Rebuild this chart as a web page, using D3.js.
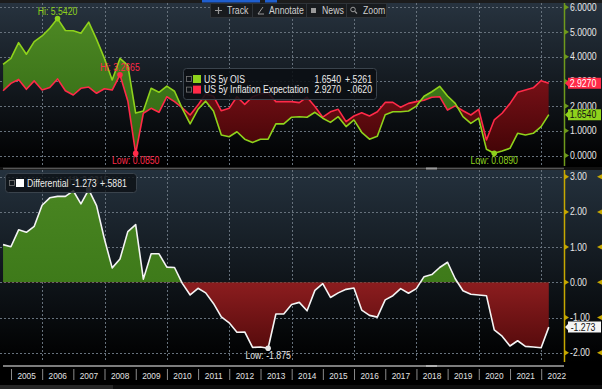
<!DOCTYPE html>
<html>
<head>
<meta charset="utf-8">
<script src="https://cdn.jsdelivr.net/npm/d3@7"></script>
<style>
html, body { margin: 0; padding: 0; background: #000; }
svg { display: block; font-family: "Liberation Sans", Arial, sans-serif; }
</style>
</head>
<body>
<script>
////////// datos trimestrales //////////
var fechas = [
  "2004-09-30", "2004-12-31",
  "2005-03-31", "2005-06-30", "2005-09-30", "2005-12-31",
  "2006-03-31", "2006-06-30", "2006-09-30", "2006-12-31",
  "2007-03-31", "2007-06-30", "2007-09-30", "2007-12-31",
  "2008-03-31", "2008-06-30", "2008-09-30", "2008-12-31",
  "2009-03-31", "2009-06-30", "2009-09-30", "2009-12-31",
  "2010-03-31", "2010-06-30", "2010-09-30", "2010-12-31",
  "2011-03-31", "2011-06-30", "2011-09-30", "2011-12-31",
  "2012-03-31", "2012-06-30", "2012-09-30", "2012-12-31",
  "2013-03-31", "2013-06-30", "2013-09-30", "2013-12-31",
  "2014-03-31", "2014-06-30", "2014-09-30", "2014-12-31",
  "2015-03-31", "2015-06-30", "2015-09-30", "2015-12-31",
  "2016-03-31", "2016-06-30", "2016-09-30", "2016-12-31",
  "2017-03-31", "2017-06-30", "2017-09-30", "2017-12-31",
  "2018-03-31", "2018-06-30", "2018-09-30", "2018-12-31",
  "2019-03-31", "2019-06-30", "2019-09-30", "2019-12-31",
  "2020-03-31", "2020-06-30", "2020-09-30", "2020-12-31",
  "2021-03-31", "2021-06-30", "2021-09-30", "2021-12-31",
  "2022-03-31"
];

// US 5y OIS
var ois = [
  3.69, 3.93,
  4.57, 4.10, 4.61, 4.84,
  5.15, 5.542, 5.06, 5.05,
  4.95, 5.40, 4.70, 3.93,
  3.06, 3.93, 3.65, 1.72,
  1.80, 2.72, 2.56, 2.81,
  2.60, 1.90, 1.28, 1.87,
  2.20, 1.80, 0.83, 0.76,
  0.96, 0.66, 0.53, 0.66,
  0.66, 1.28, 1.28, 1.55,
  1.57, 1.55, 1.75, 1.51,
  1.34, 1.57, 1.17, 1.44,
  0.94, 0.66, 0.78, 1.65,
  1.77, 1.77, 1.80, 2.00,
  2.40, 2.58, 2.80, 2.41,
  2.11, 1.57, 1.30, 1.51,
  0.25, 0.089, 0.18, 0.29,
  0.90, 0.83, 0.90, 1.17,
  1.654
];

// US 5y Inflation Expectation
var inflacion = [
  2.62, 2.92,
  3.08, 2.68, 3.02, 2.65,
  2.75, 3.10, 2.62, 2.45,
  2.72, 2.77, 2.52, 2.70,
  2.65, 3.2665, 2.21, 0.085,
  1.71, 1.91, 1.75, 2.38,
  2.18, 1.93, 1.64, 2.04,
  2.50, 2.40, 1.81, 1.91,
  2.38, 2.07, 2.38, 2.50,
  2.535, 2.18, 2.18, 2.18,
  2.14, 2.36, 1.98, 1.55,
  1.77, 1.87, 1.37, 1.60,
  1.73, 1.60, 1.77, 2.15,
  2.15, 1.95, 2.11, 2.18,
  2.24, 2.36, 2.38, 1.84,
  2.01, 1.81, 1.64, 1.87,
  0.63, 1.44, 1.71, 2.10,
  2.56, 2.65, 2.74, 3.03,
  2.927
];

// Differential (panel de abajo)
var diferencial = [
  1.07, 1.01,
  1.49, 1.42, 1.59, 2.19,
  2.40, 2.44, 2.44, 2.60,
  2.23, 2.6315, 2.18, 1.23,
  0.41, 0.66, 1.44, 1.64,
  0.09, 0.81, 0.81, 0.43,
  0.42, -0.03, -0.36, -0.17,
  -0.30, -0.60, -0.98, -1.15,
  -1.42, -1.41, -1.85, -1.84,
  -1.875, -0.90, -0.90, -0.63,
  -0.57, -0.81, -0.23, -0.04,
  -0.43, -0.30, -0.20, -0.16,
  -0.79, -0.94, -0.99, -0.50,
  -0.38, -0.18, -0.31, -0.18,
  0.16, 0.22, 0.42, 0.57,
  0.10, -0.24, -0.34, -0.36,
  -0.38, -1.351, -1.53, -1.81,
  -1.66, -1.82, -1.84, -1.86,
  -1.273
];

var aniosEtiquetas = ["2005","2006","2007","2008","2009","2010","2011","2012","2013",
  "2014","2015","2016","2017","2018","2019","2020","2021","2022"];
var ticksArriba = [0, 1, 2, 3, 4, 5, 6];
var ticksAbajo = [-2, -1, 0, 1, 2, 3];
var aniosGrilla = [2006, 2008, 2010, 2012, 2014, 2016, 2018, 2020, 2022];

var leyendaArriba = [
  {nombre: "US 5y OIS", valor: "1.6540", cambio: "+.5261", color: "#8fd21c"},
  {nombre: "US 5y Inflation Expectation", valor: "2.9270", cambio: "-.0620", color: "#ff2a48"}
];
var leyendaAbajo = {nombre: "Differential", valor: "-1.273", cambio: "+.5881"};
var herramientas = ["Track", "Annotate", "News", "Zoom"];

////////// escalas //////////
var parseFecha = d3.utcParse("%Y-%m-%d");
var datos = fechas.map(function(f, i) {
  return {fecha: parseFecha(f), ois: ois[i], inf: inflacion[i], dif: diferencial[i]};
});

var ejeX = 564;
var x = d3.scaleUtc()
  .domain([new Date(Date.UTC(2005, 0, 1)), new Date(Date.UTC(2022, 0, 1))])
  .range([11, 541.2]);
var yArr = d3.scaleLinear().domain([0, 6]).range([155.5, 7.3]);
var yAba = d3.scaleLinear().domain([-2, 3]).range([352.7, 176.7]);

var verde = "#8fd21c", rojo = "#ff2a48";
var menos = function(s) { return s.replace("\u2212", "-"); };
var fmt4 = function(v) { return menos(d3.format(".4f")(v)); };
var fmt3 = function(v) { return menos(d3.format(".3f")(v)); };
var fmt2 = function(v) { return menos(d3.format(".2f")(v)); };

var svg = d3.select("body").append("svg")
  .attr("width", 602)
  .attr("height", 389)
  .attr("font-size", 10);
var defs = svg.append("defs");

function degradado(id, y1, y2, c1, c2) {
  var g = defs.append("linearGradient").attr("id", id)
    .attr("gradientUnits", "userSpaceOnUse")
    .attr("x1", 0).attr("x2", 0).attr("y1", y1).attr("y2", y2);
  g.append("stop").attr("offset", 0).attr("stop-color", c1);
  g.append("stop").attr("offset", 1).attr("stop-color", c2);
}
degradado("fondoArr", 3, 166, "#27333f", "#000000");
degradado("fondoAba", 170, 362, "#24313d", "#000000");
degradado("rellVerde", 10, 155, "#4f8a25", "#2e6410");
degradado("rellRojo", 60, 155, "#86141c", "#420406");
degradado("rellVerdeAba", 180, 282, "#4a8622", "#3e7a1a");
degradado("rellRojoAba", 282, 352, "#8c1d1f", "#540a0b");

defs.append("clipPath").attr("id", "clipArr")
  .append("rect").attr("x", 0).attr("y", 3).attr("width", ejeX).attr("height", 163);
defs.append("clipPath").attr("id", "clipAba")
  .append("rect").attr("x", 0).attr("y", 170).attr("width", ejeX).attr("height", 192);

////////// fondos //////////
svg.append("rect").attr("width", 602).attr("height", 389).attr("fill", "#000");
svg.append("rect").attr("x", 0).attr("y", 3).attr("width", 602).attr("height", 163).attr("fill", "url(#fondoArr)");
svg.append("rect").attr("x", 0).attr("y", 170).attr("width", 602).attr("height", 192).attr("fill", "url(#fondoAba)");
svg.append("rect").attr("x", 0).attr("y", 0).attr("width", 602).attr("height", 3).attr("fill", "#1c1c1c");
svg.append("rect").attr("x", 202).attr("y", 0).attr("width", 58).attr("height", 2.5).attr("fill", "#1f5fcf");
svg.append("rect").attr("x", 265).attr("y", 0).attr("width", 12).attr("height", 2.5).attr("fill", "#1f5fcf");

// separador entre paneles
svg.append("rect").attr("x", 0).attr("y", 167).attr("width", 602).attr("height", 3).attr("fill", "#111");
svg.append("line").attr("x1", 3).attr("x2", ejeX).attr("y1", 168.5).attr("y2", 168.5)
  .attr("stroke", "#555").attr("stroke-width", 1.5);
svg.append("rect").attr("x", 426).attr("y", 167.5).attr("width", 11).attr("height", 2).attr("fill", "#9a9a9a");

////////// grillas //////////
function grilla(g, ys, y, y0, y1) {
  g.selectAll("line.h").data(ys).join("line").attr("class", "h")
    .attr("x1", 0).attr("x2", ejeX)
    .attr("y1", function(d) { return Math.round(y(d)) + 0.5; })
    .attr("y2", function(d) { return Math.round(y(d)) + 0.5; });
  g.selectAll("line.v").data(aniosGrilla).join("line").attr("class", "v")
    .attr("x1", function(d) { return Math.round(x(new Date(Date.UTC(d, 0, 1)))) + 0.5; })
    .attr("x2", function(d) { return Math.round(x(new Date(Date.UTC(d, 0, 1)))) + 0.5; })
    .attr("y1", y0).attr("y2", y1);
  g.selectAll("line").attr("stroke", "#66717c").attr("stroke-dasharray", "2,2").attr("stroke-width", 1);
}
grilla(svg.append("g"), ticksArriba, yArr, 3, 166);
grilla(svg.append("g"), ticksAbajo, yAba, 170, 362);

////////// panel de arriba //////////
var arriba = svg.append("g").attr("clip-path", "url(#clipArr)");

var bajoOis = d3.area().x(function(d) { return x(d.fecha); }).y0(170).y1(function(d) { return yArr(d.ois); });
var bajoInf = d3.area().x(function(d) { return x(d.fecha); }).y0(170).y1(function(d) { return yArr(d.inf); });
defs.append("clipPath").attr("id", "clipBajoOis").append("path").attr("d", bajoOis(datos));
defs.append("clipPath").attr("id", "clipBajoInf").append("path").attr("d", bajoInf(datos));

arriba.append("path")
  .attr("clip-path", "url(#clipBajoOis)")
  .attr("fill", "url(#rellVerde)")
  .attr("d", d3.area().x(function(d) { return x(d.fecha); }).y0(0).y1(function(d) { return yArr(d.inf); })(datos));
arriba.append("path")
  .attr("clip-path", "url(#clipBajoInf)")
  .attr("fill", "url(#rellRojo)")
  .attr("d", d3.area().x(function(d) { return x(d.fecha); }).y0(0).y1(function(d) { return yArr(d.ois); })(datos));

arriba.append("path").datum(datos)
  .attr("fill", "none").attr("stroke", rojo).attr("stroke-width", 1.6).attr("stroke-linejoin", "round")
  .attr("d", d3.line().x(function(d) { return x(d.fecha); }).y(function(d) { return yArr(d.inf); }));
arriba.append("path").datum(datos)
  .attr("fill", "none").attr("stroke", verde).attr("stroke-width", 1.6).attr("stroke-linejoin", "round")
  .attr("d", d3.line().x(function(d) { return x(d.fecha); }).y(function(d) { return yArr(d.ois); }));

////////// panel de abajo //////////
var abajo = svg.append("g").attr("clip-path", "url(#clipAba)");
var areaDif = d3.area().x(function(d) { return x(d.fecha); }).y0(yAba(0)).y1(function(d) { return yAba(d.dif); });
defs.append("clipPath").attr("id", "clipPos").append("rect")
  .attr("x", 0).attr("y", 170).attr("width", ejeX).attr("height", yAba(0) - 170);
defs.append("clipPath").attr("id", "clipNeg").append("rect")
  .attr("x", 0).attr("y", yAba(0)).attr("width", ejeX).attr("height", 362 - yAba(0));
abajo.append("path").attr("clip-path", "url(#clipPos)").attr("fill", "url(#rellVerdeAba)").attr("d", areaDif(datos));
abajo.append("path").attr("clip-path", "url(#clipNeg)").attr("fill", "url(#rellRojoAba)").attr("d", areaDif(datos));
abajo.append("path").datum(datos)
  .attr("fill", "none").attr("stroke", "#f4f4f4").attr("stroke-width", 1.6).attr("stroke-linejoin", "round")
  .attr("d", d3.line().x(function(d) { return x(d.fecha); }).y(function(d) { return yAba(d.dif); }));

////////// maximos y minimos //////////
function marca(d, y, campo, color, texto, arribaTexto, dy) {
  var px = x(d.fecha), py = y(d[campo]);
  svg.append("circle").attr("cx", px).attr("cy", py).attr("r", 2.8).attr("fill", color);
  svg.append("text").attr("x", px).attr("y", (arribaTexto ? py - 3.5 : py + 11) + (dy || 0))
    .attr("text-anchor", "middle").attr("fill", color)
    .text(texto);
}
var iMaxOis = d3.maxIndex(ois), iMinOis = d3.minIndex(ois);
var iMaxInf = d3.maxIndex(inflacion), iMinInf = d3.minIndex(inflacion);
var iMaxDif = d3.maxIndex(diferencial), iMinDif = d3.minIndex(diferencial);

marca(datos[iMaxDif], yAba, "dif", "#8f98a0", "Hi: " + fmt4(diferencial[iMaxDif]), true, -2);
marca(datos[iMaxOis], yArr, "ois", verde, "Hi: " + fmt4(ois[iMaxOis]), true);
marca(datos[iMaxInf], yArr, "inf", rojo, "Hi: " + fmt4(inflacion[iMaxInf]), true);
marca(datos[iMinInf], yArr, "inf", rojo, "Low: " + fmt4(inflacion[iMinInf]), false);
marca(datos[iMinOis], yArr, "ois", verde, "Low: " + fmt4(ois[iMinOis]), false);
marca(datos[iMinDif], yAba, "dif", "#e6e6e6", "Low: " + fmt3(diferencial[iMinDif]), false);

////////// ejes de la derecha //////////
function ejeDerecho(ys, y, fmt, color, y0, y1, dobles) {
  var g = svg.append("g");
  g.append("line").attr("x1", ejeX + 0.5).attr("x2", ejeX + 0.5).attr("y1", y0).attr("y2", y1)
    .attr("stroke", color).attr("stroke-width", 1.5);
  var t = g.selectAll("g").data(ys).join("g")
    .attr("transform", function(d) { return "translate(0," + y(d) + ")"; });
  t.append("path").attr("d", "M" + (ejeX + 1) + ",-2.5L" + (ejeX + 5) + ",0L" + (ejeX + 1) + ",2.5Z").attr("fill", color);
  t.append("text").attr("x", ejeX + 6).attr("dy", "0.35em").attr("fill", "#e8e8e8").text(fmt);
  if (dobles) {
    t.append("path").attr("d", "M602,-2.5L597,0L602,2.5Z").attr("fill", color);
  }
}
ejeDerecho(ticksArriba, yArr, fmt4, "#6f9a1c", 3, 166, false);
ejeDerecho(ticksAbajo, yAba, fmt2, "#c7a800", 170, 362, true);

function etiquetaValor(valor, y, fondo, colorTexto) {
  var g = svg.append("g").attr("transform", "translate(0," + y + ")");
  g.append("path").attr("d", "M" + (ejeX + 1) + ",0L" + (ejeX + 4) + ",-3V-5.5H601V5.5H" + (ejeX + 4) + "V3Z")
    .attr("fill", fondo);
  g.append("text").attr("x", 583).attr("dy", "0.36em").attr("text-anchor", "middle")
    .attr("fill", colorTexto).text(valor);
}
etiquetaValor(fmt4(inflacion[inflacion.length - 1]), yArr(inflacion[inflacion.length - 1]), rojo, "#fff");
etiquetaValor(fmt4(ois[ois.length - 1]), yArr(ois[ois.length - 1]), verde, "#111");
etiquetaValor(fmt3(diferencial[diferencial.length - 1]), yAba(diferencial[diferencial.length - 1]), "#f4f4f4", "#111");

////////// eje x de abajo //////////
svg.append("line").attr("x1", 3).attr("x2", ejeX).attr("y1", 366).attr("y2", 366)
  .attr("stroke", "#7c7c7c").attr("stroke-width", 2);
svg.append("rect").attr("x", 426).attr("y", 365).attr("width", 11).attr("height", 2).attr("fill", "#b0b0b0");
var anios = svg.append("g").selectAll("g").data(aniosEtiquetas).join("g")
  .attr("transform", function(d) { return "translate(" + x(new Date(Date.UTC(+d, 0, 1))) + ",0)"; });
anios.append("line").attr("x1", 0.5).attr("x2", 0.5).attr("y1", 369).attr("y2", 380)
  .attr("stroke", "#8a8a8a");
anios.append("text").attr("x", (x(new Date(Date.UTC(2006, 0, 1))) - x(new Date(Date.UTC(2005, 0, 1)))) / 2)
  .attr("y", 379).attr("text-anchor", "middle").attr("fill", "#e2e2e2").attr("font-size", 9.5)
  .text(function(d) { return d; });
svg.append("rect").attr("x", 0).attr("y", 385).attr("width", 602).attr("height", 4).attr("fill", "#0e0e0e");
svg.append("rect").attr("x", 0).attr("y", 385).attr("width", 113).attr("height", 4).attr("fill", "#262626");

////////// leyendas //////////
var ley = svg.append("g");
ley.append("rect").attr("x", 183.5).attr("y", 68.5).attr("width", 193).attr("height", 31).attr("rx", 3)
  .attr("fill", "#0b0f13").attr("fill-opacity", 0.88).attr("stroke", "#3a434c");
var filas = ley.selectAll("g").data(leyendaArriba).join("g")
  .attr("transform", function(d, i) { return "translate(0," + (79 + i * 10.6) + ")"; });
filas.append("rect").attr("x", 186.5).attr("y", -2.5).attr("width", 5).attr("height", 5)
  .attr("fill", "none").attr("stroke", "#777").attr("stroke-width", 0.8);
filas.append("rect").attr("x", 193).attr("y", -4).attr("width", 8).attr("height", 8).attr("fill", function(d) { return d.color; });
filas.append("text").attr("x", 204).attr("dy", "0.35em").attr("fill", "#ececec").text(function(d) { return d.nombre; });
filas.append("text").attr("x", 341).attr("dy", "0.35em").attr("text-anchor", "end").attr("fill", "#ececec").text(function(d) { return d.valor; });
filas.append("text").attr("x", 372).attr("dy", "0.35em").attr("text-anchor", "end").attr("fill", "#ececec").text(function(d) { return d.cambio; });

var leyAba = svg.append("g");
leyAba.append("rect").attr("x", 5.5).attr("y", 173.5).attr("width", 131).attr("height", 19).attr("rx", 3)
  .attr("fill", "#0b0f13").attr("fill-opacity", 0.78).attr("stroke", "#3a434c");
leyAba.append("rect").attr("x", 9.5).attr("y", 180.5).attr("width", 5).attr("height", 5)
  .attr("fill", "none").attr("stroke", "#777").attr("stroke-width", 0.8);
leyAba.append("rect").attr("x", 16).attr("y", 179).attr("width", 8).attr("height", 8).attr("fill", "#fff");
leyAba.append("text").attr("x", 27).attr("y", 183).attr("dy", "0.35em").attr("fill", "#ececec").text(leyendaAbajo.nombre);
leyAba.append("text").attr("x", 72).attr("y", 183).attr("dy", "0.35em")
  .attr("fill", "#ececec").text(leyendaAbajo.valor);
leyAba.append("text").attr("x", 100).attr("y", 183).attr("dy", "0.35em")
  .attr("fill", "#ececec").text(leyendaAbajo.cambio);

////////// barra de herramientas //////////
var barra = svg.append("g");
barra.append("rect").attr("x", 210.5).attr("y", 3.5).attr("width", 176).attr("height", 14)
  .attr("fill", "#181b1e").attr("stroke", "#2e3338");
var posHerr = [227, 269, 322, 363];
barra.selectAll("text").data(herramientas).join("text")
  .attr("x", function(d, i) { return posHerr[i]; }).attr("y", 10.5).attr("dy", "0.35em")
  .attr("fill", "#cfcfcf").text(function(d) { return d; });
[252, 306, 346].forEach(function(sx) {
  barra.append("line").attr("x1", sx + 0.5).attr("x2", sx + 0.5).attr("y1", 4).attr("y2", 17).attr("stroke", "#2e3338");
});
// iconos
barra.append("path").attr("d", "M215,10.5H222M218.5,7V14").attr("stroke", "#9a9a9a").attr("stroke-width", 1.2);
barra.append("path").attr("d", "M258,14L263,7M258,14H264").attr("stroke", "#9a9a9a").attr("fill", "none");
barra.append("rect").attr("x", 311).attr("y", 8).attr("width", 5).attr("height", 5).attr("fill", "#9a9a9a");
barra.append("circle").attr("cx", 353).attr("cy", 9.5).attr("r", 2.3).attr("fill", "none").attr("stroke", "#9a9a9a");
barra.append("path").attr("d", "M354.8,11.3L357,13.5").attr("stroke", "#9a9a9a").attr("stroke-width", 1.2);

////////// letra angosta, como la del terminal //////////
// se pasa todo a anclaje "start" para que la compresion no corra los textos
svg.selectAll("text").each(function() {
  var t = d3.select(this);
  var largo = this.getComputedTextLength();
  var nuevo = largo * 0.87;
  var ancla = t.attr("text-anchor");
  var x0 = +t.attr("x");
  if (ancla === "end") x0 = x0 - nuevo;
  if (ancla === "middle") x0 = x0 - nuevo / 2;
  t.attr("text-anchor", "start").attr("x", x0.toFixed(1))
    .attr("textLength", nuevo.toFixed(1)).attr("lengthAdjust", "spacingAndGlyphs");
});
</script>
</body>
</html>
